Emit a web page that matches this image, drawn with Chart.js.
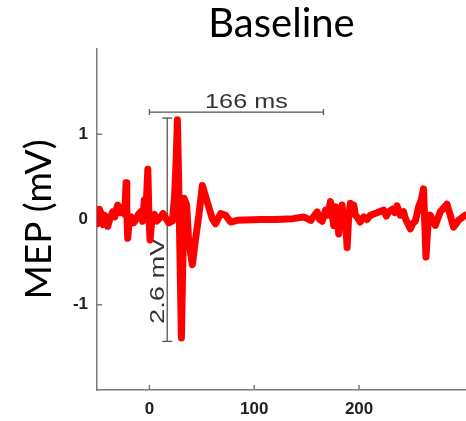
<!DOCTYPE html>
<html>
<head>
<meta charset="utf-8">
<script src="https://cdn.jsdelivr.net/npm/chart.js@4.4.1/dist/chart.umd.min.js"></script>
<style>
  html, body { margin: 0; padding: 0; background: #fff; }
</style>
</head>
<body>
<canvas id="mep" width="466" height="421"></canvas>
<script>
// MEP trace: time (ms) and amplitude (mV)
const timeMs = [
  -50, -49, -47.6, -45.5, -44, -42.9, -41, -39.7, -37.5, -35,
  -33, -31.5, -30.2, -28, -25.4, -23.5, -22.3, -21.6, -20.7, -19.5,
  -17.5, -15, -12.8, -10.5, -8.3, -6.5, -4.8, -3.3, -1.5, -0.5,
  0.6, 2.5, 4.8, 7, 10.8, 13, 15.5, 18.5, 21.9, 24.1,
  25.5, 26.7, 27.9, 30.5, 33, 35.5, 37.4, 41, 44.1, 47.2,
  50.5, 54.6, 60, 63.1, 67.9, 72.7, 77.4, 83.8, 106, 121,
  137, 147, 154, 157, 160, 162.5, 164.8, 168, 170, 172.7,
  174, 175.8, 177.4, 179, 180.6, 182, 183.8, 185, 186, 187.5,
  188.6, 190, 191.7, 193.3, 194.9, 196.5, 198.1, 201, 204.4, 207.5,
  210.8, 217.1, 223.4, 226, 228.2, 231.7, 234, 236.2, 238, 239.3,
  242.5, 244, 245.7, 248.9, 251, 253.6, 255, 256.8, 259.3, 261.5,
  263.8, 266, 267.9, 272.7, 277.4, 283.8, 287, 290.1, 294.9, 301.2
];
const mepMv = [
  0.05, -0.05, 0.12, 0.04, -0.06, 0.05, 0.00, -0.08, 0.02, 0.09,
  0.03, 0.12, 0.17, 0.08, 0.14, 0.06, 0.43, 0.10, -0.22, -0.05,
  0.03, -0.04, 0.00, 0.06, 0.09, -0.02, 0.23, 0.10, 0.59, 0.05,
  -0.24, 0.02, 0.06, -0.02, 0.03, 0.07, 0.02, -0.04, -0.02, 0.29,
  0.70, 1.17, 0.46, -1.39, 0.25, 0.17, -0.24, -0.53, -0.22, 0.05,
  0.40, 0.23, 0.01, -0.05, 0.07, 0.05, -0.03, -0.01, 0.00, 0.00,
  0.01, 0.03, -0.01, 0.04, 0.09, 0.00, -0.02, 0.11, 0.05, 0.21,
  0.10, -0.07, 0.15, 0.02, -0.17, 0.05, 0.17, 0.00, 0.05, -0.10,
  -0.33, 0.02, 0.19, 0.12, 0.17, 0.05, 0.03, -0.03, 0.03, 0.00,
  0.05, 0.08, 0.11, 0.04, 0.09, 0.12, 0.08, 0.16, 0.10, 0.05,
  0.09, 0.02, -0.03, -0.11, -0.05, -0.02, 0.05, 0.15, 0.23, 0.36,
  -0.44, -0.01, 0.05, -0.07, 0.09, 0.18, 0.05, -0.09, -0.01, 0.05
];
const xTicks = [0, 100, 200];
const yTicks = [-1, 0, 1];

// scale bars drawn on the trace
const msBar = [0, 166];       // ms
const msBarLevel = 1.26;      // mV
const mvBar = [1.19, -1.43];  // mV
const mvBarTime = 17;         // ms

const axisGrey = '#7a7a7a';

const scaleBars = {
  id: 'scaleBars',
  beforeDatasetsDraw(chart) {
    const { ctx, scales: { x, y } } = chart;
    const seg = (x0, y0, x1, y1) => {
      ctx.beginPath(); ctx.moveTo(x0, y0); ctx.lineTo(x1, y1); ctx.stroke();
    };
    ctx.save();

    // tick marks point inward
    ctx.strokeStyle = axisGrey;
    ctx.lineWidth = 1.5;
    xTicks.forEach(v => {
      const px = x.getPixelForValue(v);
      seg(px, y.bottom, px, y.bottom - 5);
    });
    yTicks.forEach(v => {
      const py = y.getPixelForValue(v);
      seg(x.left, py, x.left + 5, py);
    });

    // 166 ms bar
    ctx.strokeStyle = '#555';
    ctx.lineWidth = 1.3;
    const hy = y.getPixelForValue(msBarLevel);
    const hx0 = x.getPixelForValue(msBar[0]);
    const hx1 = x.getPixelForValue(msBar[1]);
    seg(hx0, hy, hx1, hy);
    seg(hx0, hy - 3, hx0, hy + 3);
    seg(hx1, hy - 3, hx1, hy + 3);

    // 2.6 mV bar
    const vx = x.getPixelForValue(mvBarTime);
    const vy0 = y.getPixelForValue(mvBar[0]);
    const vy1 = y.getPixelForValue(mvBar[1]);
    seg(vx, vy0, vx, vy1);
    seg(vx - 5, vy0, vx + 5, vy0);
    seg(vx - 5, vy1, vx + 5, vy1);

    ctx.fillStyle = '#333';
    ctx.font = '21px "Liberation Sans", Arial, sans-serif';
    ctx.textAlign = 'center';
    ctx.textBaseline = 'alphabetic';

    ctx.save();
    ctx.translate((hx0 + hx1) / 2 + 10, hy - 4);
    ctx.scale(1.2, 1);
    ctx.fillText('166 ms', 0, 0);
    ctx.restore();

    ctx.save();
    ctx.translate(vx - 3, (vy0 + vy1) / 2 + 51);
    ctx.rotate(-Math.PI / 2);
    ctx.scale(1.3, 1);
    ctx.fillText('2.6 mV', 0, 0);
    ctx.restore();

    ctx.restore();
  }
};

const tickFont = { family: '"Liberation Sans", Arial, sans-serif', size: 17, weight: 'bold' };

new Chart(document.getElementById('mep'), {
  type: 'line',
  data: {
    datasets: [{
      data: timeMs.map((t, i) => ({ x: t, y: mepMv[i] })),
      borderColor: '#ff0000',
      borderWidth: 7,
      borderJoinStyle: 'round',
      borderCapStyle: 'round',
      pointRadius: 0,
      tension: 0
    }]
  },
  options: {
    responsive: false,
    animation: false,
    layout: { padding: 0 },
    plugins: {
      legend: { display: false },
      tooltip: { enabled: false },
      title: {
        display: true,
        text: 'Baseline',
        fullSize: false,
        color: '#000',
        font: { family: 'Lato', size: 40, weight: 'normal', lineHeight: 1.1 },
        padding: { top: 2, bottom: 3 }
      }
    },
    scales: {
      x: {
        type: 'linear',
        min: -50,
        max: 302,
        afterBuildTicks: s => { s.ticks = xTicks.map(v => ({ value: v })); },
        afterFit: s => { s.height = 31; },
        grid: { display: false, drawTicks: false },
        border: { display: true, color: axisGrey, width: 1.5 },
        ticks: { color: '#222', font: tickFont, padding: 9, maxRotation: 0 }
      },
      y: {
        min: -2,
        max: 2,
        afterBuildTicks: s => { s.ticks = yTicks.map(v => ({ value: v })); },
        afterFit: s => { s.width = 97; },
        grid: { display: false, drawTicks: false },
        border: { display: true, color: axisGrey, width: 1.5 },
        ticks: { color: '#222', font: tickFont, padding: 9 },
        title: {
          display: true,
          text: 'MEP (mV)',
          color: '#000',
          font: { family: 'Lato', size: 37, weight: 'normal' },
          padding: { top: 17, bottom: 0 }
        }
      }
    }
  },
  plugins: [scaleBars]
});
</script>
</body>
</html>
